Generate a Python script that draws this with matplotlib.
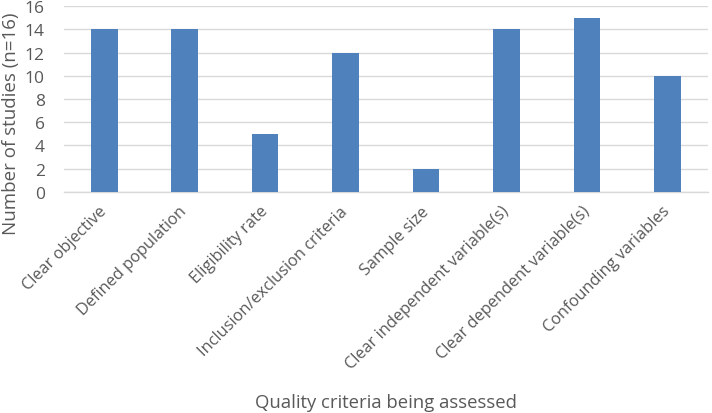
import matplotlib.pyplot as plt

criteria = [
    "Clear objective",
    "Defined population",
    "Eligibility rate",
    "Inclusion/exclusion criteria",
    "Sample size",
    "Clear independent variable(s)",
    "Clear dependent variable(s)",
    "Confounding variables",
]
n_studies = [14, 14, 5, 12, 2, 14, 15, 10]
y_ticks = [0, 2, 4, 6, 8, 10, 12, 14, 16]

plt.rcParams['font.family'] = ['Open Sans', 'DejaVu Sans']
text_col = '#595959'
grid_col = '#d9d9d9'

fig = plt.figure(figsize=(7.12, 4.14), dpi=100)
ax = fig.add_axes([0.09, 0.534, 0.904, 0.449])

x = range(len(criteria))
ax.bar(x, n_studies, width=0.33, color='#4f81bd', zorder=3)

ax.set_xlim(-0.5, len(criteria) - 0.5)
ax.set_ylim(0, 16)
ax.set_yticks(y_ticks)
ax.set_yticklabels([str(v) for v in y_ticks], fontsize=12.5, color=text_col)
ax.set_xticks(list(x))
ax.set_xticklabels(criteria, rotation=45, ha='right', va='center',
                   rotation_mode='anchor', fontsize=11.8, color=text_col)
ax.tick_params(axis='both', length=0)
ax.tick_params(axis='x', pad=12)
ax.tick_params(axis='y', pad=14)

ax.grid(axis='y', color=grid_col, linewidth=1, zorder=0)
for s in ['top', 'right', 'left']:
    ax.spines[s].set_visible(False)
ax.spines['bottom'].set_color(grid_col)
ax.spines['bottom'].set_linewidth(1)

fig.text(0.016, 0.70, "Number of studies (n=16)", rotation=90, ha='center',
         va='center', fontsize=13.5, color=text_col)
fig.text(0.542, 0.027, "Quality criteria being assessed", ha='center',
         va='center', fontsize=13.3, color=text_col)

fig.savefig('out.png', dpi=100)
